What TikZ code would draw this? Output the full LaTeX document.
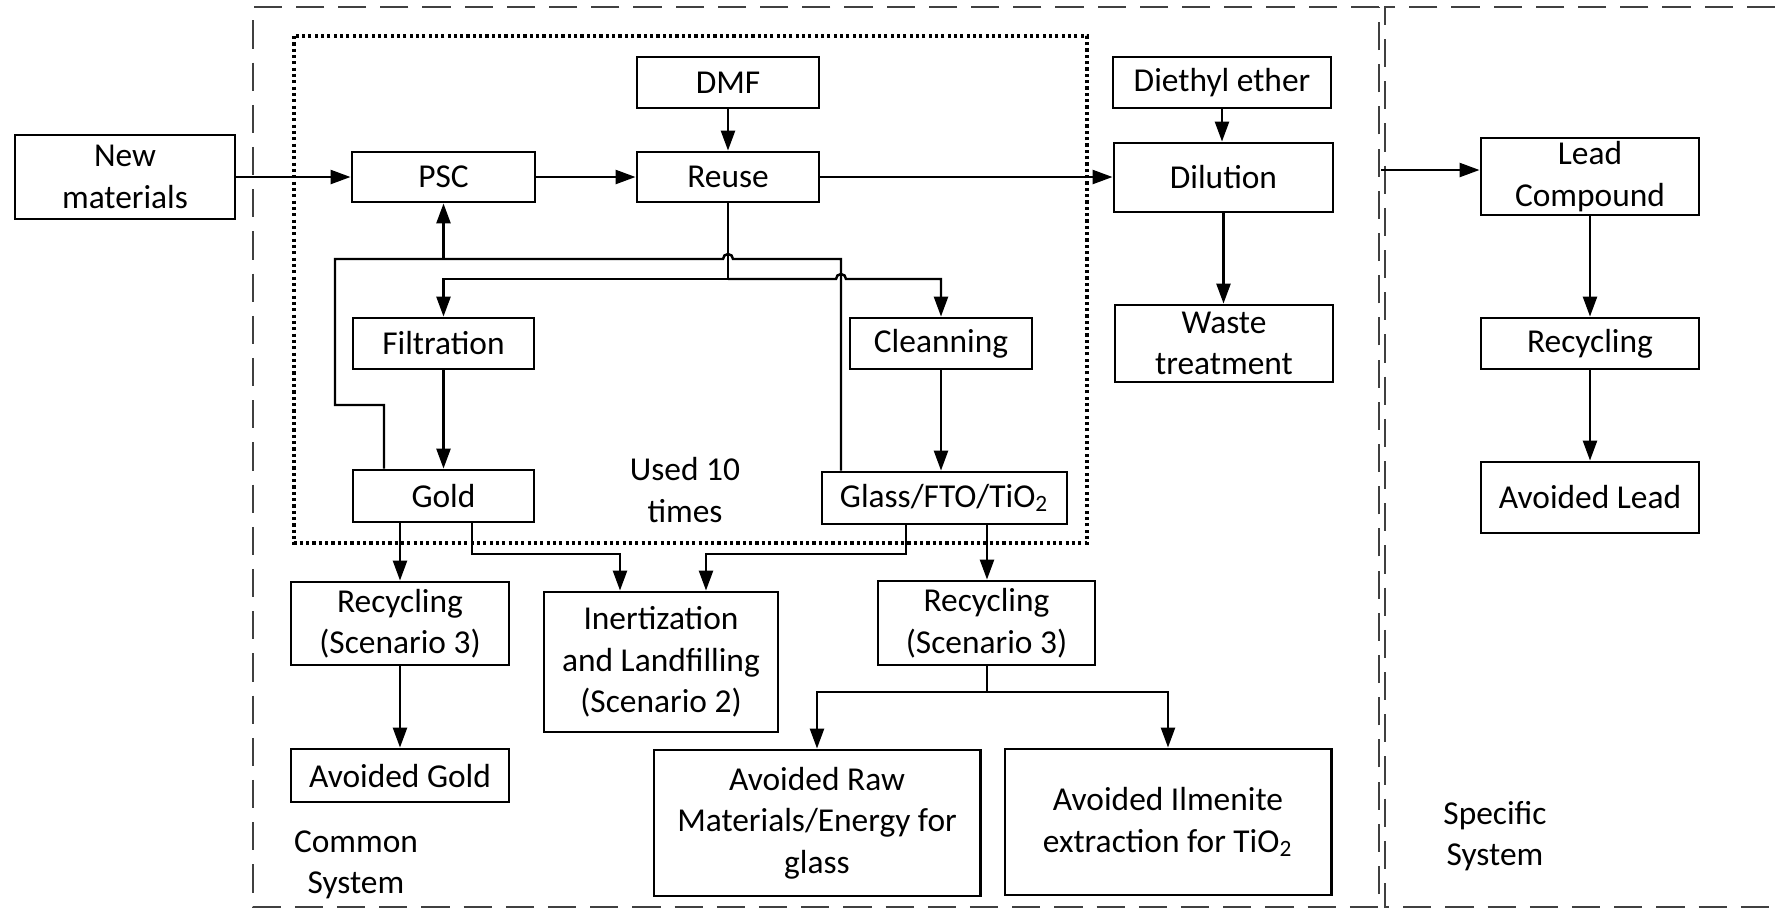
\documentclass[tikz,border=0pt]{standalone}
\usepackage{fontspec}
\setmainfont{Carlito}
\usetikzlibrary{arrows.meta,calc}
\begin{document}
\begin{tikzpicture}[x=0.01cm,y=-0.01cm,
  txt/.style={font=\fontsize{9.5}{11.8}\selectfont},
  box/.style={draw, line width=0.8pt, align=center, inner sep=0pt, txt},
  ln/.style={line width=0.7pt},
  arr/.style={ln, -{Triangle[length=0.2cm,width=0.14cm]}},
  lbl/.style={align=center, inner sep=0pt, txt},
  sysline/.style={line width=0.8pt, dash pattern=on 8pt off 4pt, draw=black!75},
  loopline/.style={line width=0.9pt, dash pattern=on 0.9pt off 0.9pt},
]
\useasboundingbox (0,0) rectangle (1775,911);

% system boundaries
\draw[sysline] (1379,7) -- (253,7) -- (253,907) -- (1379,907) -- cycle;
\draw[sysline] (1775,7) -- (1385,7) -- (1385,907) -- (1775,907);
\draw[loopline] (294,36) rectangle (1087,543);

% boxes
\node[box, minimum width=2.20cm, minimum height=0.84cm] (new) at (125,177) {New\\materials};
\node[box, minimum width=1.83cm, minimum height=0.50cm] (psc) at (443.5,177) {PSC};
\node[box, minimum width=1.82cm, minimum height=0.51cm] (dmf) at (728,82.5) {DMF};
\node[box, minimum width=1.82cm, minimum height=0.50cm] (reuse) at (728,177) {Reuse};
\node[box, minimum width=2.18cm, minimum height=0.51cm] (ether) at (1222,82.5) {Diethyl ether};
\node[box, minimum width=2.19cm, minimum height=0.69cm] (dil) at (1223.5,177.5) {Dilution};
\node[box, minimum width=2.18cm, minimum height=0.77cm] (waste) at (1224,343.5) {Waste\\treatment};
\node[box, minimum width=2.18cm, minimum height=0.77cm] (lead) at (1590,176.5) {Lead\\Compound};
\node[box, minimum width=2.18cm, minimum height=0.51cm] (recpb) at (1590,343.5) {Recycling};
\node[box, minimum width=2.18cm, minimum height=0.71cm] (avpb) at (1590,497.5) {Avoided Lead};
\node[box, minimum width=1.81cm, minimum height=0.51cm] (filt) at (443.5,343.5) {Filtration};
\node[box, minimum width=1.82cm, minimum height=0.51cm] (clean) at (941,343.5) {Cleanning};
\node[box, minimum width=1.81cm, minimum height=0.52cm] (gold) at (443.5,496) {Gold};
\node[box, minimum width=2.45cm, minimum height=0.52cm] (glass) at (944.5,498) {Glass/FTO/TiO\textsubscript{2}};
\node[box, minimum width=2.18cm, minimum height=0.83cm] (recl) at (400,623.5) {Recycling\\(Scenario 3)};
\node[box, minimum width=2.34cm, minimum height=1.40cm] (inert) at (661,662) {Inertization\\and Landfilling\\(Scenario 2)};
\node[box, minimum width=2.17cm, minimum height=0.84cm] (recr) at (986.5,623) {Recycling\\(Scenario 3)};
\node[box, minimum width=2.18cm, minimum height=0.53cm] (avau) at (400,775.5) {Avoided Gold};
\node[box, minimum width=3.26cm, minimum height=1.46cm] (avraw) at (817,823) {Avoided Raw\\Materials/Energy for\\glass};
\node[box, minimum width=3.26cm, minimum height=1.46cm] (avilm) at (1168,822) {Avoided Ilmenite\\extraction for TiO\textsubscript{2}};

% labels
\node[lbl] (used) at (685,490) {Used 10\\times};
\node[lbl] (common) at (356,865) {Common\\System};
\node[lbl] (specific) at (1495,836) {Specific\\System};

% waypoints
\coordinate (fbL) at (335,259);
\coordinate (fbR) at (841,259);
\coordinate (fbS) at (384,405);
\coordinate (split) at (728,279);
\coordinate (gleg) at (472,554);
\coordinate (ginA) at (620,554);
\coordinate (tleg) at (906,554);
\coordinate (tinA) at (706,554);
\coordinate (rsplit) at (987,692);
\coordinate (divA) at (1381,170);

% main flow
\draw[arr] (new.east) -- (psc.west);
\draw[arr] (psc.east) -- (reuse.west);
\draw[arr] (dmf.south) -- (reuse.north);
\draw[arr] (reuse.east) -- (reuse.east -| dil.west);
\draw[arr] (ether.south) -- (ether.south |- dil.north);
\draw[arr] (dil.south) -- (dil.south |- waste.north);
\draw[arr] (divA) -- (divA -| lead.west);
\draw[arr] (lead.south) -- (recpb.north);
\draw[arr] (recpb.south) -- (avpb.north);

% feedback loop to PSC
\draw[ln] (fbS |- gold.north) -- (fbS) -- (fbS -| fbL) -- (fbL)
  -- ($(reuse.south |- fbL)+(-5,0)$) arc[start angle=180,end angle=0,radius=0.05cm]
  -- (fbR) -- (fbR |- glass.north);
\draw[arr] (psc.south |- fbL) -- (psc.south);

% reuse split
\draw[ln] (reuse.south) -- (reuse.south |- split);
\draw[arr] (reuse.south |- split) -- (filt.north |- split) -- (filt.north);
\draw[arr] (reuse.south |- split) -- ($(fbR |- split)+(-5,0)$) arc[start angle=180,end angle=0,radius=0.05cm]
  -- (clean.north |- split) -- (clean.north);
\draw[arr] (filt.south) -- (gold.north);
\draw[arr] (clean.south) -- (clean.south |- glass.north);

% end of life
\draw[arr] (recl.north |- gold.south) -- (recl.north);
\draw[arr] (gleg |- gold.south) -- (gleg) -- (ginA) -- (ginA |- inert.north);
\draw[arr] (tleg |- glass.south) -- (tleg) -- (tinA) -- (tinA |- inert.north);
\draw[arr] (rsplit |- glass.south) -- (rsplit |- recr.north);
\draw[arr] (recl.south) -- (avau.north);
\draw[ln] (rsplit |- recr.south) -- (rsplit);
\draw[arr] (rsplit) -- (avraw.north |- rsplit) -- (avraw.north);
\draw[arr] (rsplit) -- (avilm.north |- rsplit) -- (avilm.north);
\end{tikzpicture}
\end{document}
